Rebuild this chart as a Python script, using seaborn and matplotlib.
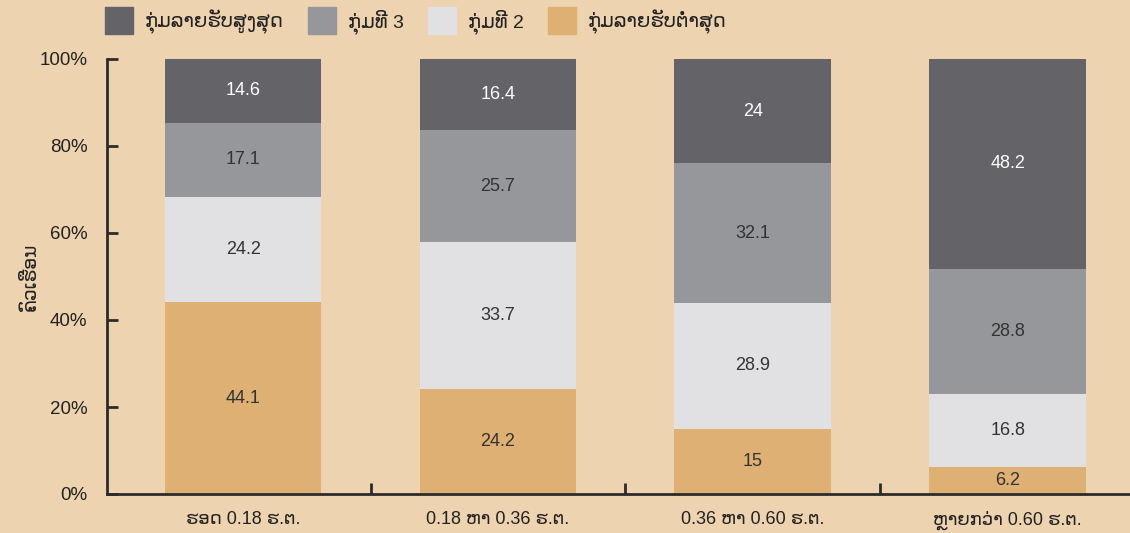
import matplotlib
matplotlib.use("Agg")
import matplotlib.pyplot as plt
import matplotlib.patches as mpatches
import seaborn as sns
import pandas as pd
import numpy as np

# Farm-size categories (hectares) and income-group shares (%)
categories = ["ຮອດ 0.18 ຮ.ຕ.", "0.18 ຫາ 0.36 ຮ.ຕ.", "0.36 ຫາ 0.60 ຮ.ຕ.", "ຫຼາຍກວ່າ 0.60 ຮ.ຕ."]
lowest = [44.1, 24.2, 15, 6.2]
group2 = [24.2, 33.7, 28.9, 16.8]
group3 = [17.1, 25.7, 32.1, 28.8]
highest = [14.6, 16.4, 24, 48.2]

series_names = ["ກຸ່ມລາຍຮັບຕ່ຳສຸດ", "ກຸ່ມທີ 2", "ກຸ່ມທີ 3", "ກຸ່ມລາຍຮັບສູງສຸດ"]
series_values = [lowest, group2, group3, highest]
colors = ["#deb073", "#e1e1e3", "#96979b", "#636368"]
label_colors = ["#333333", "#333333", "#333333", "#ffffff"]

y_ticks = [0, 20, 40, 60, 80, 100]
y_label = "ຄົວເຮືອນ"

bg = "#eed3b0"
ink = "#2b2b2b"

sns.set_style("white")
plt.rcParams["font.family"] = ["Liberation Sans", "DejaVu Sans"]

fig = plt.figure(figsize=(11.3, 5.33), dpi=100, facecolor=bg)
ax = fig.add_axes([107 / 1130, 1 - 494 / 533, 1 - 107 / 1130, (494 - 59) / 533])
ax.set_facecolor(bg)

vals = np.array(series_values)
tops = np.cumsum(vals, axis=0)
bottoms = tops - vals

# Stack: draw cumulative totals from the tallest layer down
for i in range(len(series_names) - 1, -1, -1):
    df = pd.DataFrame({"cat": categories, "top": tops[i]})
    sns.barplot(data=df, x="cat", y="top", color=colors[i], saturation=1,
                width=0.615, ax=ax, zorder=2, linewidth=0, edgecolor="none")

for i in range(len(series_names)):
    for j, cat in enumerate(categories):
        v = vals[i, j]
        ax.text(j, bottoms[i, j] + v / 2, f"{v:g}", ha="center", va="center",
                fontsize=13, color=label_colors[i], zorder=3)

ax.set_xlim(-0.534, 3.48)
ax.set_ylim(0, 100)
ax.set_yticks(y_ticks)
ax.set_yticklabels([f"{t}%" for t in y_ticks])
ax.set_xticks([0.5, 1.5, 2.5], minor=True)
ax.tick_params(axis="x", which="major", bottom=False, length=0, labelsize=13,
               colors="#222222", pad=12)
ax.tick_params(axis="x", which="minor", bottom=True, direction="in", length=8,
               width=2, color=ink)
ax.tick_params(axis="y", left=True, direction="in", length=8, width=2, color=ink,
               labelsize=13.5, labelcolor="#222222", pad=14)
ax.set_xlabel("")
ax.set_ylabel(y_label, fontsize=13.5, color="#222222", labelpad=0)

for side in ["top", "right"]:
    ax.spines[side].set_visible(False)
for side in ["left", "bottom"]:
    ax.spines[side].set_color(ink)
    ax.spines[side].set_linewidth(2)
    ax.spines[side].set_zorder(4)

handles = [mpatches.Patch(color=colors[i], label=series_names[i]) for i in range(3, -1, -1)]
fig.legend(handles=handles, loc="upper left", bbox_to_anchor=(105 / 1130, 1 - 7 / 533),
           ncol=4, frameon=False, fontsize=14, handlelength=1.45, handleheight=1.75,
           handletextpad=0.6, columnspacing=1.25, borderpad=0, borderaxespad=0,
           labelcolor="#222222")

fig.savefig("out.png", dpi=100, facecolor=bg)
